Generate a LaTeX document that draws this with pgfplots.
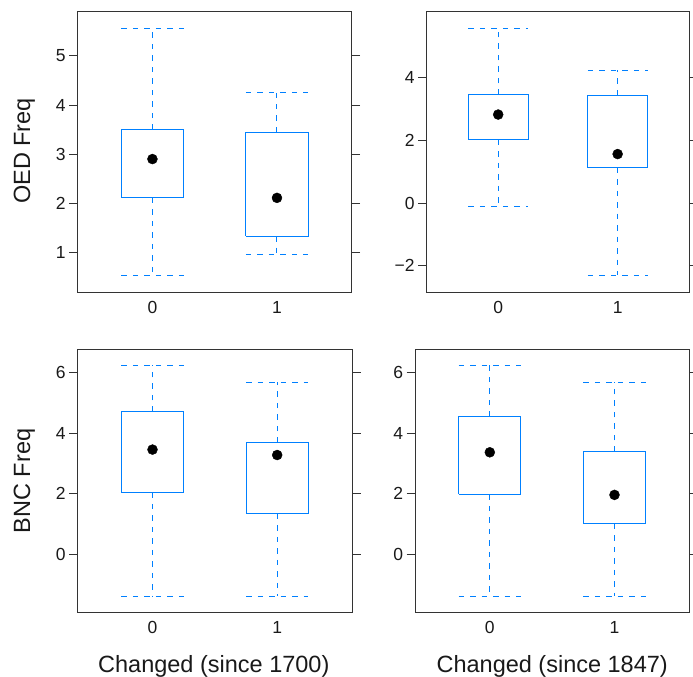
\documentclass[border=0pt]{standalone}
\usepackage{fontspec}
\setmainfont{Liberation Sans}
\usepackage{pgfplots}
\pgfplotsset{compat=1.18}

\definecolor{boxblue}{RGB}{0,128,255}
\definecolor{framegray}{RGB}{51,51,51}

\pgfplotsset{
  lattice/.style={
    scale only axis, anchor=south west,
    xmin=-0.6, xmax=1.6,
    xtick={0,1}, xticklabels={0,1},
    xtick style={draw=none},
    xticklabel pos=left,
    ytick pos=both, yticklabel pos=left,
    tick align=outside,
    major tick length=8.5bp,
    axis line style={draw=framegray, line width=0.9bp},
    ytick style={draw=framegray, line width=0.9bp},
    ticklabel style={font=\fontsize{17.5bp}{20bp}\selectfont, text=black!90},
    xticklabel style={yshift=3bp},
    clip=false,
  },
  boxline/.style={draw=boxblue, color=boxblue, line width=1bp, solid, no marks},
  whiskline/.style={draw=boxblue, color=boxblue, line width=1bp, no marks,
    dash pattern=on 5.5bp off 6bp},
  meddot/.style={only marks, mark=*, mark size=5bp, color=black, fill=black,
    mark options={solid, fill=black, draw=black}},
}

% box-and-whisker: #1 left edge, #2 centre, #3 right edge,
% #4 lower whisker, #5 lower quartile, #6 upper quartile, #7 upper whisker
\newcommand{\bw}[7]{%
  \addplot[boxline] coordinates {(#1,#5) (#3,#5) (#3,#6) (#1,#6) (#1,#5)};
  \addplot[whiskline] coordinates {(#2,#6) (#2,#7)};
  \addplot[whiskline] coordinates {(#1,#7) (#3,#7)};
  \addplot[whiskline] coordinates {(#2,#5) (#2,#4)};
  \addplot[whiskline] coordinates {(#1,#4) (#3,#4)};
}

\begin{document}
\begin{tikzpicture}[x=1bp, y=1bp]
\useasboundingbox (0,0) rectangle (693,677);

% OED frequency, changed since 1700
\begin{axis}[lattice, at={(77.7bp,384.3bp)}, width=274bp, height=281bp,
  ymin=0.18, ymax=5.90, ytick={1,2,3,4,5}, yticklabels={1,2,3,4,5}]
  \bw{-0.25}{0}{0.25}{0.53}{2.11}{3.50}{5.55}
  \bw{0.75}{1}{1.25}{0.95}{1.33}{3.45}{4.25}
  \addplot[meddot] coordinates {(0,2.90) (1,2.11)};
\end{axis}

% OED frequency, changed since 1847
\begin{axis}[lattice, at={(426.5bp,384.3bp)}, width=262.8bp, height=281bp,
  ymin=-2.86, ymax=6.10, ytick={-2,0,2,4}, yticklabels={−2,0,2,4}]
  \bw{-0.25}{0}{0.25}{-0.12}{2.01}{3.45}{5.55}
  \bw{0.75}{1}{1.25}{-2.31}{1.13}{3.44}{4.24}
  \addplot[meddot] coordinates {(0,2.82) (1,1.56)};
\end{axis}

% BNC frequency, changed since 1700
\begin{axis}[lattice, at={(77.7bp,64.3bp)}, width=274.3bp, height=263.7bp,
  ymin=-1.94, ymax=6.79, ytick={0,2,4,6}, yticklabels={0,2,4,6}]
  \bw{-0.25}{0}{0.25}{-1.40}{2.04}{4.71}{6.25}
  \bw{0.75}{1}{1.25}{-1.40}{1.33}{3.69}{5.69}
  \addplot[meddot] coordinates {(0,3.46) (1,3.28)};
\end{axis}

% BNC frequency, changed since 1847
\begin{axis}[lattice, at={(415bp,64.3bp)}, width=274.3bp, height=263.7bp,
  ymin=-1.94, ymax=6.79, ytick={0,2,4,6}, yticklabels={0,2,4,6}]
  \bw{-0.25}{0}{0.25}{-1.40}{1.98}{4.55}{6.25}
  \bw{0.75}{1}{1.25}{-1.40}{1.00}{3.38}{5.69}
  \addplot[meddot] coordinates {(0,3.37) (1,1.96)};
\end{axis}

% axis titles
\begin{scope}[every node/.style={font=\fontsize{23.5bp}{26bp}\selectfont, text=black!90}]
  \node[rotate=90, anchor=base] at (30,526) {OED Freq};
  \node[rotate=90, anchor=base] at (30,196) {BNC Freq};
  \node[anchor=base] at (213.8,4) {Changed (since 1700)};
  \node[anchor=base] at (552.2,4) {Changed (since 1847)};
\end{scope}
\end{tikzpicture}
\end{document}
